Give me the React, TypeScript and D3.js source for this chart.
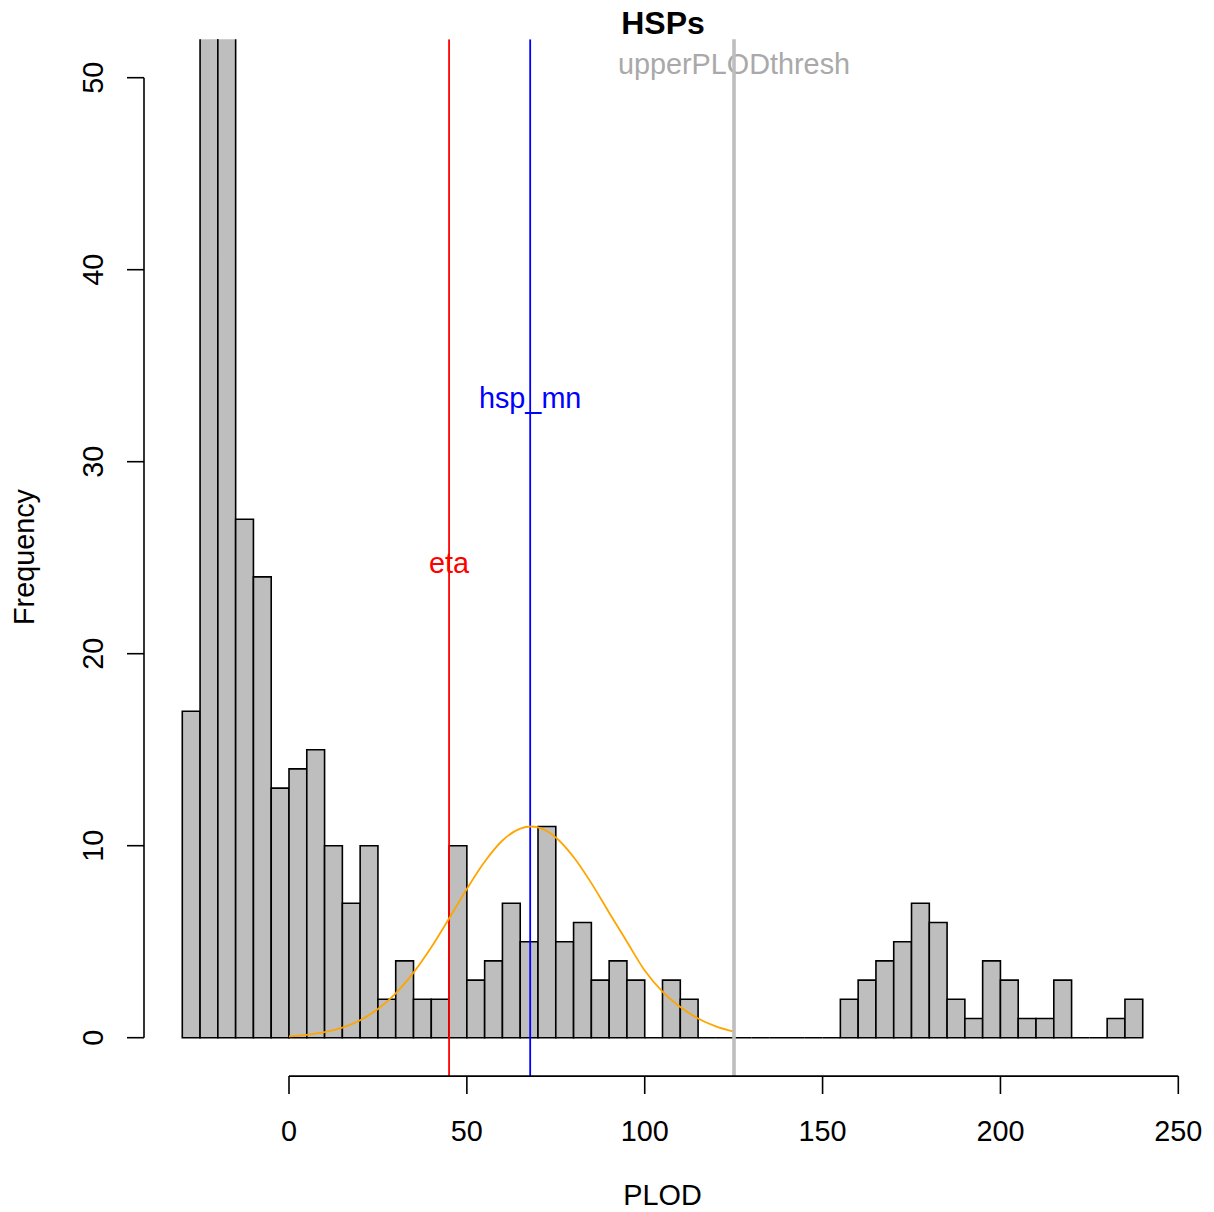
import React from "react";
import * as d3 from "d3";

// ---- data ----
const binStart = -30;
const binWidth = 5;
const counts = [
  17, 62, 58, 27, 24, 13, 14, 15, 10, 7, 10, 2, 4, 2, 2, 10, 3, 4, 7, 5, 11, 5, 6, 3, 4, 3, 0, 3, 2,
  0, 0, 0, 0, 0, 0, 0, 0,
  2, 3, 4, 5, 7, 6, 2, 1, 4, 3, 1, 1, 3, 0, 0, 1, 2,
];
const curveX = [0, 5, 10, 15, 20, 25, 30, 35, 40, 45, 50, 55, 60, 65, 68, 70, 75, 80, 85, 90, 95, 100, 105, 110, 115, 120, 125];
const curveY = [0.07, 0.15, 0.29, 0.53, 0.91, 1.49, 2.31, 3.39, 4.71, 6.21, 7.75, 9.16, 10.27, 10.89, 11.0, 10.95, 10.43, 9.41, 8.05, 6.51, 5.0, 3.5, 2.4, 1.6, 1.0, 0.59, 0.32];
const xTicks = [0, 50, 100, 150, 200, 250];
const yTicks = [0, 10, 20, 30, 40, 50];
const etaValue = 45;
const hspMnValue = 67.8;
const upperThreshValue = 125.1;
const title = "HSPs";
const xLabel = "PLOD";
const yLabel = "Frequency";

export default function App() {
  const W = 1214;
  const H = 1212;
  const plotTop = 39.3;
  const plotBottom = 1076.1;
  const plotLeft = 144;
  const x = d3.scaleLinear().domain([0, 250]).range([289, 1178.3]);
  const y = d3.scaleLinear().domain([-2, 52]).range([plotBottom, plotTop]);
  const font = "'Liberation Sans', Arial, Helvetica, sans-serif";
  const fs = 28.8;

  const line = d3
    .line<number>()
    .x((_, i) => x(curveX[i]))
    .y((d) => y(d))
    .curve(d3.curveMonotoneX);

  return (
    <svg
      width={W}
      height={H}
      style={{ position: "absolute", left: 0, top: 0, background: "#fff" }}
      fontFamily={font}
    >
      <defs>
        <clipPath id="plotClip">
          <rect x={plotLeft} y={plotTop} width={W - plotLeft} height={plotBottom - plotTop} />
        </clipPath>
      </defs>
      <rect x={0} y={0} width={W} height={H} fill="#fff" />
      <g clipPath="url(#plotClip)">
        {counts.map((c, i) => {
          const x0 = x(binStart + i * binWidth);
          const x1 = x(binStart + (i + 1) * binWidth);
          const y0 = y(0);
          const y1 = y(c);
          return (
            <path
              key={i}
              d={`M${x0},${y0}H${x1}V${y1}H${x0}Z`}
              fill="#BEBEBE"
              stroke="#000"
              strokeWidth={1.6}
            />
          );
        })}
        <line x1={x(etaValue)} x2={x(etaValue)} y1={plotTop} y2={plotBottom} stroke="#FF0000" strokeWidth={1.8} />
        <line x1={x(hspMnValue)} x2={x(hspMnValue)} y1={plotTop} y2={plotBottom} stroke="#0000FF" strokeWidth={1.8} />
        <path d={line(curveY) || ""} fill="none" stroke="#FFA500" strokeWidth={1.8} />
      </g>
      <text x={x(etaValue)} y={573} textAnchor="middle" fontSize={fs} fill="#FF0000">eta</text>
      <text x={x(hspMnValue)} y={408} textAnchor="middle" fontSize={fs} fill="#0000FF">hsp_mn</text>
      <text x={x(upperThreshValue)} y={74} textAnchor="middle" fontSize={fs} fill="#A9A9A9">upperPLODthresh</text>
      <line x1={x(upperThreshValue)} x2={x(upperThreshValue)} y1={plotTop} y2={plotBottom} stroke="#BEBEBE" strokeWidth={3.6} />

      {/* y axis */}
      <line x1={plotLeft} x2={plotLeft} y1={y(0)} y2={y(50)} stroke="#000" strokeWidth={1.6} />
      {yTicks.map((t) => (
        <g key={t}>
          <line x1={plotLeft} x2={127} y1={y(t)} y2={y(t)} stroke="#000" strokeWidth={1.6} />
          <text
            x={103}
            y={y(t)}
            transform={`rotate(-90, 103, ${y(t)})`}
            textAnchor="middle"
            fontSize={fs}
            fill="#000"
          >
            {t}
          </text>
        </g>
      ))}

      {/* x axis */}
      <line x1={x(0)} x2={x(250)} y1={plotBottom} y2={plotBottom} stroke="#000" strokeWidth={1.6} />
      {xTicks.map((t) => (
        <g key={t}>
          <line x1={x(t)} x2={x(t)} y1={plotBottom} y2={1094} stroke="#000" strokeWidth={1.6} />
          <text x={x(t)} y={1141} textAnchor="middle" fontSize={fs} fill="#000">
            {t}
          </text>
        </g>
      ))}

      <text x={663} y={34} textAnchor="middle" fontSize={32} fontWeight="bold" fill="#000">{title}</text>
      <text x={662.5} y={1205} textAnchor="middle" fontSize={fs} fill="#000">{xLabel}</text>
      <text
        x={34}
        y={557}
        transform={`rotate(-90, 34, 557)`}
        textAnchor="middle"
        fontSize={fs}
        fill="#000"
      >
        {yLabel}
      </text>
    </svg>
  );
}
